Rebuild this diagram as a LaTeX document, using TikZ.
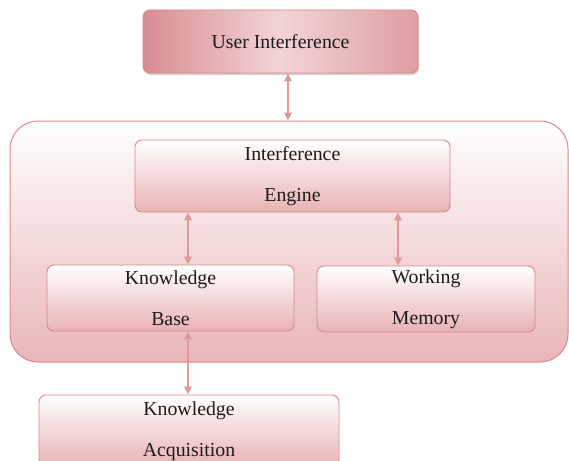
\documentclass[tikz,border=0pt]{standalone}
\usepackage{fontspec}
\setmainfont{Liberation Serif}
\usetikzlibrary{positioning,arrows.meta,shadows}
\definecolor{rim}{HTML}{D9878B}
\definecolor{pinkfill}{HTML}{E8B2B4}
\definecolor{pinkdark}{HTML}{D98D91}
\definecolor{pinklight}{HTML}{F2D4D6}
\definecolor{arrowpink}{HTML}{E0989A}
\definecolor{ink}{HTML}{1E1A1B}

\begin{document}
\begin{tikzpicture}[
  x=1pt, y=-1pt,
  font=\fontsize{19.8}{41}\selectfont,
  box/.style={rounded corners=7pt, draw=rim, line width=0.9pt, top color=white, bottom color=pinkfill, text=ink, align=center, inner sep=0pt},
  top/.style={box, left color=pinkdark, right color=pinkdark!85, middle color=pinklight, drop shadow={shadow xshift=1pt, shadow yshift=-2pt, fill=black!35}},
  frame/.style={rounded corners=28pt, draw=rim, line width=1pt, top color=white, bottom color=pinkfill!95},
  arr/.style={{Triangle[length=8pt,width=7.5pt]}-{Triangle[length=8pt,width=7.5pt]}, line width=1.7pt, draw=arrowpink},
]
\useasboundingbox (0,0) rectangle (569,460);
\node[frame, minimum width=558pt, minimum height=241pt] (sys) at (289,241.5) {};
\node[top, minimum width=275pt, minimum height=63pt] (user) at (280.5,41.5) {User Interference};
\node[box, minimum width=315pt, minimum height=72pt] (eng) at (292.5,176) {Interference\\Engine};
\node[box, minimum width=247pt, minimum height=66pt] (kb) at (170.5,298) {Knowledge\\Base};
\node[box, minimum width=218pt, minimum height=66pt] (wm) at (426,299) {Working\\Memory};
\node[box, minimum width=300pt, minimum height=72pt] (ka) at (189,431) {Knowledge\\Acquisition};
\coordinate (ux) at (288,0);
\coordinate (kx) at (188,0);
\coordinate (wx) at (398,0);
\draw[arr] (user.south -| ux) -- (sys.north -| ux);
\draw[arr] (eng.south -| kx) -- (kb.north -| kx);
\draw[arr] (eng.south -| wx) -- (wm.north -| wx);
\draw[arr] (kb.south -| kx) -- (ka.north -| kx);
\end{tikzpicture}
\end{document}
